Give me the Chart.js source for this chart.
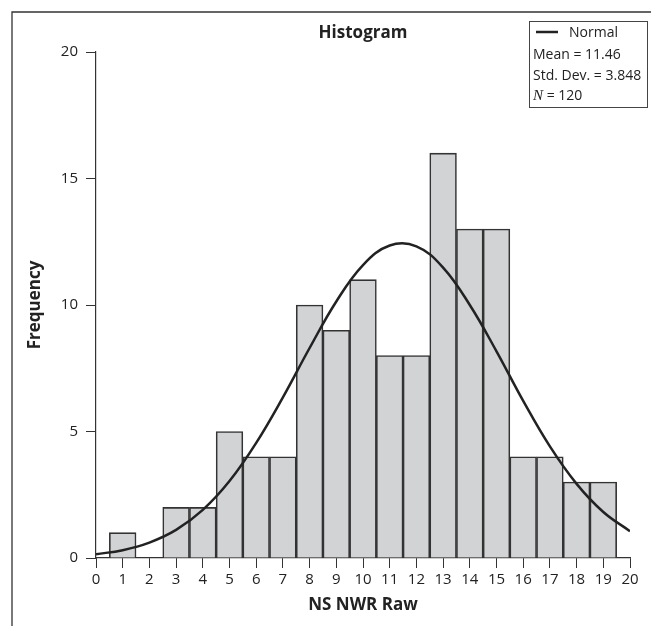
<!DOCTYPE html>
<html>
<head>
<meta charset="utf-8">
<script src="https://cdn.jsdelivr.net/npm/chart.js@4"></script>
<style>
  html, body { margin: 0; padding: 0; background: #fff; }
  #wrap { width: 651px; height: 626px; }
</style>
</head>
<body>
<div id="wrap"><canvas id="myChart" width="651" height="626"></canvas></div>
<script>
// histogram bins (centre of each bin) and their counts
var binCenters = [1, 3, 4, 5, 6, 7, 8, 9, 10, 11, 12, 13, 14, 15, 16, 17, 18, 19];
var counts = [1, 2, 2, 5, 4, 4, 10, 9, 11, 8, 8, 16, 13, 13, 4, 4, 3, 3];

// normal curve
var curveX = [0, 1, 2, 3, 4, 5, 6, 7, 8, 9, 10, 11, 12, 13, 14, 15, 16, 17, 18, 19, 20];
var curveY = [0.15, 0.31, 0.61, 1.11, 1.90, 3.04, 4.55, 6.35, 8.30, 10.14, 11.58, 12.35, 12.32, 11.48, 10.00, 8.17, 6.21, 4.41, 2.93, 1.82, 1.06];

var legendLines = ['Mean = 11.46', 'Std. Dev. = 3.848'];
var nValue = '120';

var FONT = "'Open Sans', sans-serif";

var extras = {
    id: 'extras',
    afterDraw: function (chart) {
        var c = chart.ctx;
        c.save();
        // frame (top and left edges)
        c.strokeStyle = '#333';
        c.lineWidth = 1.3;
        c.beginPath();
        c.moveTo(12, 626);
        c.lineTo(12, 12);
        c.lineTo(651, 12);
        c.stroke();

        // title
        c.fillStyle = '#222';
        c.font = 'bold 17px ' + FONT;
        c.textAlign = 'center';
        c.textBaseline = 'middle';
        c.fillText('Histogram', (chart.chartArea.left + chart.chartArea.right) / 2, 33);

        // legend box
        c.fillStyle = '#fff';
        c.fillRect(529.5, 21.5, 118, 86);
        c.strokeStyle = '#444';
        c.lineWidth = 1;
        c.strokeRect(529.5, 21.5, 118, 86);
        c.strokeStyle = '#222';
        c.lineWidth = 2.5;
        c.beginPath();
        c.moveTo(536, 32);
        c.lineTo(558, 32);
        c.stroke();
        c.fillStyle = '#222';
        c.textAlign = 'left';
        c.textBaseline = 'alphabetic';
        c.font = '14px ' + FONT;
        c.fillText('Normal', 569, 37);
        c.fillText(legendLines[0], 533, 59);
        c.fillText(legendLines[1], 533, 80);
        c.font = 'italic 15px "Liberation Serif", serif';
        c.fillText('N', 533, 100);
        var w = c.measureText('N').width;
        c.font = '14px ' + FONT;
        c.fillText(' = ' + nValue, 533 + w, 100);
        c.restore();
    }
};

var ctx = document.getElementById('myChart').getContext('2d');
var myChart = new Chart(ctx, {
    type: 'bar',
    data: {
        datasets: [{
            type: 'line',
            label: 'Normal',
            data: curveX.map(function (x, i) { return { x: x, y: curveY[i] }; }),
            borderColor: '#222',
            borderWidth: 2.5,
            pointRadius: 0,
            tension: 0.4,
            fill: false,
            order: 0
        }, {
            label: 'Frequency',
            data: binCenters.map(function (x, i) { return { x: x, y: counts[i] }; }),
            backgroundColor: '#d2d3d5',
            borderColor: '#333',
            borderWidth: 1.6,
            barPercentage: 1,
            categoryPercentage: 1,
            order: 1
        }]
    },
    options: {
        responsive: false,
        animation: false,
        layout: {
            padding: { top: 52, right: 21, bottom: 0, left: 0 }
        },
        plugins: {
            legend: { display: false },
            tooltip: { enabled: false }
        },
        scales: {
            x: {
                type: 'linear',
                min: 0,
                max: 20,
                offset: false,
                afterFit: function (s) { s.height = 68; },
                ticks: {
                    stepSize: 1,
                    autoSkip: false,
                    maxRotation: 0,
                    padding: 3,
                    color: '#222',
                    font: { family: FONT, size: 15 }
                },
                grid: {
                    offset: false,
                    drawOnChartArea: false,
                    drawTicks: true,
                    tickLength: 10,
                    color: '#333'
                },
                border: { display: true, color: '#333', width: 1.2 },
                title: {
                    display: true,
                    text: 'NS NWR Raw',
                    color: '#222',
                    font: { family: FONT, size: 17, weight: 'bold' },
                    padding: { top: 0, bottom: 11 }
                }
            },
            y: {
                min: 0,
                max: 20,
                afterFit: function (s) { s.width = 96; },
                ticks: {
                    stepSize: 5,
                    padding: 8,
                    color: '#222',
                    font: { family: FONT, size: 15 }
                },
                grid: {
                    drawOnChartArea: false,
                    drawTicks: true,
                    tickLength: 10,
                    color: '#333'
                },
                border: { display: true, color: '#333', width: 1.2 },
                title: {
                    display: true,
                    text: 'Frequency',
                    color: '#222',
                    font: { family: FONT, size: 17, weight: 'bold' },
                    padding: { top: 25, bottom: 0 }
                }
            }
        }
    },
    plugins: [extras]
});
</script>
</body>
</html>
